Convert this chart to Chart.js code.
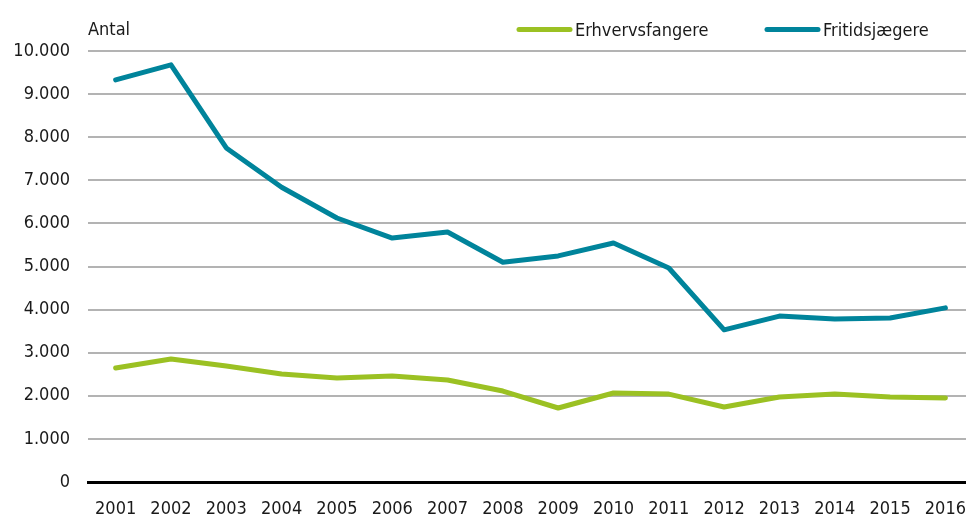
<!DOCTYPE html>
<html>
<head>
<meta charset="utf-8">
<script src="https://cdn.jsdelivr.net/npm/chart.js@4"></script>
<style>
html,body{margin:0;padding:0;background:#fff;overflow:hidden;width:966px;height:518px;}
#clip{width:966px;height:518px;overflow:hidden;position:relative;}
#wrap{width:983px;height:518px;position:absolute;left:0;top:0;}
</style>
</head>
<body>
<div id="clip"><div id="wrap"><canvas id="c"></canvas></div></div>
<script>
const years = ["2001","2002","2003","2004","2005","2006","2007","2008","2009","2010","2011","2012","2013","2014","2015","2016"];
const erhvervsfangere = [2645,2855,2690,2505,2413,2460,2367,2110,1717,2065,2040,1740,1972,2040,1972,1950];
const fritidsjaegere = [9330,9680,7750,6840,6125,5660,5800,5100,5245,5545,4965,3530,3850,3780,3805,4040];
const yTicks = [0,1000,2000,3000,4000,5000,6000,7000,8000,9000,10000];
const yUnit = "Antal";

const FONT = "'DejaVu Sans Condensed','DejaVu Sans',sans-serif";
const GREEN = "#9bc123";
const BLUE = "#00849b";
const TEXT = "#1a1a1a";

function fmt(v){ return String(v).replace(/\B(?=(\d{3})+(?!\d))/g, "."); }

const extras = {
  id: "extras",
  afterDraw(chart){
    const ctx = chart.ctx;
    ctx.save();
    ctx.font = "18px " + FONT;
    ctx.fillStyle = TEXT;
    ctx.textBaseline = "alphabetic";
    ctx.textAlign = "left";
    ctx.fillText(yUnit, chart.chartArea.left, 35);
    const items = [
      { x: 517, ds: chart.data.datasets[0] },
      { x: 765, ds: chart.data.datasets[1] }
    ];
    items.forEach(it => {
      ctx.strokeStyle = it.ds.borderColor;
      ctx.lineWidth = 5;
      ctx.lineCap = "round";
      ctx.beginPath();
      ctx.moveTo(it.x + 2, 29.5);
      ctx.lineTo(it.x + 53, 29.5);
      ctx.stroke();
      ctx.fillText(it.ds.label, it.x + 58, 36);
    });
    ctx.restore();
  }
};

new Chart(document.getElementById("c"), {
  type: "line",
  data: {
    labels: years,
    datasets: [
      { label: "Erhvervsfangere", data: erhvervsfangere, borderColor: GREEN, backgroundColor: GREEN, borderWidth: 5, pointRadius: 0, tension: 0, borderCapStyle: "round", borderJoinStyle: "round" },
      { label: "Fritidsjægere", data: fritidsjaegere, borderColor: BLUE, backgroundColor: BLUE, borderWidth: 5, pointRadius: 0, tension: 0, borderCapStyle: "round", borderJoinStyle: "round" }
    ]
  },
  options: {
    responsive: true,
    maintainAspectRatio: false,
    animation: false,
    layout: { padding: { left: 0, right: 0, top: 51, bottom: 0 } },
    plugins: {
      tooltip: { enabled: false },
      legend: { display: false }
    },
    scales: {
      x: {
        offset: true,
        grid: { display: false, drawTicks: false },
        border: { display: true, color: "#000", width: 3 },
        ticks: { font: { family: FONT, size: 18 }, color: TEXT, padding: 17, maxRotation: 0, autoSkip: false },
        afterFit(scale){ scale.height = 36; }
      },
      y: {
        min: 0, max: 10000,
        afterBuildTicks(scale){ scale.ticks = yTicks.map(v=>({value:v})); },
        grid: { color: "#b3b3b3", lineWidth: 2, drawTicks: false },
        border: { display: false },
        ticks: { font: { family: FONT, size: 18 }, color: TEXT, padding: 18, callback: v => fmt(v) },
        afterFit(scale){ scale.width = 88; }
      }
    }
  },
  plugins: [extras]
});
</script>
</body>
</html>
